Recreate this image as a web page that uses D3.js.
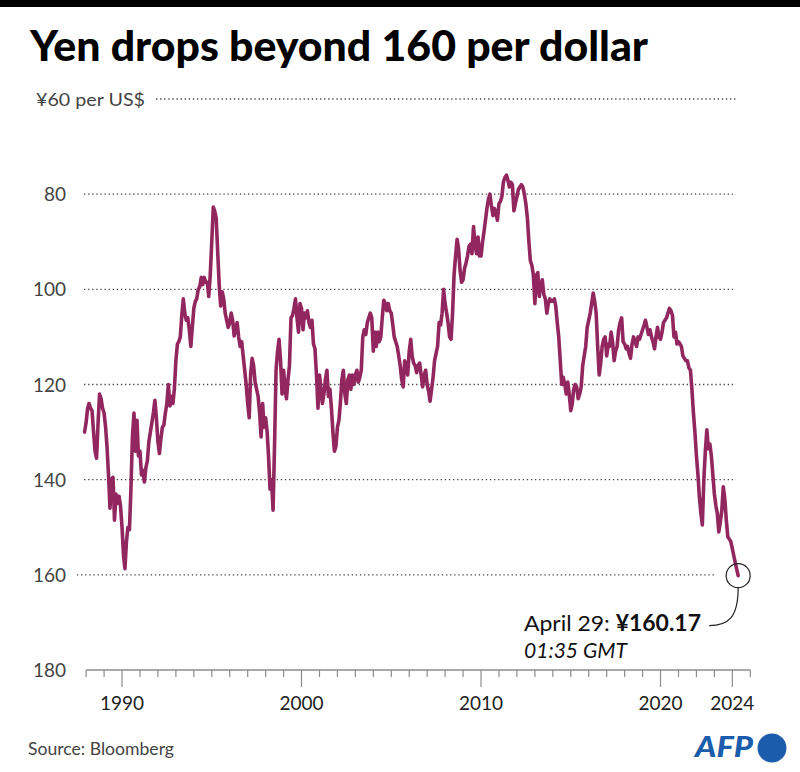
<!DOCTYPE html>
<html><head><meta charset="utf-8">
<script src="https://cdn.jsdelivr.net/npm/d3@7/dist/d3.min.js"></script>
<style>
body{margin:0;background:#fff;}
svg{display:block;font-family:Lato,"Noto Sans",sans-serif;}
</style></head><body>
<svg id="c" width="800" height="772"></svg>
<script>
// ---------- data ----------
const title = "Yen drops beyond 160 per dollar";
const unitLabel = "¥60 per US$";
const sourceText = "Source: Bloomberg";
const firstMonth = [1987, 12];            // first monthly observation
const lastDate = [2024, 4, 29];           // date of last observation
const rates = [
  130,                                                               // 1987 Dec
  128,125,124,125,125.5,130,134,135.5,128,122,123,125,               // 1988
  126,129,133,139,146,140,139.5,148.5,143,145,143.5,145.5,           // 1989
  150,156,158.7,153,150,150.5,142,131,126,134,127.5,135,             // 1990
  134,139,138,140.5,137.5,136,132,130,128,126,123.3,127,             // 1991
  132,134.5,131.5,129,128.5,126,124,120,124.5,122.5,124,121,         // 1992
  115,111.5,111,110,105.5,102,105,106.5,106,108.5,112,108,           // 1993
  104,102.5,102,100,99.5,97.5,99,97.5,98.5,98.5,101.5,97,            // 1994
  90,82.7,83.5,85,92,99,103.5,100.5,102,105,106.5,108,               // 1995
  107,105,106.5,109.8,108,107,110,112,111,114,117,120,               // 1996
  124,127,118,114.5,116,119.5,121,122.5,126,131,124,129,             // 1997
  127,130,135,142,140,146.4,133,117,113,110.5,115,122,               // 1998
  117,121,123,119,116,106,105.5,104,102,106,109,103,                 // 1999
  104,108.5,105,106,104.5,107,108,106.5,111.5,112.5,118,125,         // 2000
  118,121,124,122,119,117,122.5,121,125,130,134,133,                 // 2001
  129,127.5,124,119,117,122,124,119,118,121,118,120,                 // 2002
  118,117,119.5,118.5,117,110,108.5,109.5,107,106,105,106,           // 2003
  113,109,112,109,111,110,106,102.3,103,104.5,103,104.5,             // 2004
  105,107.5,110,111,112,114,116,119,120.5,115,116,118,               // 2005
  113,110.5,114,115.5,116,117.5,116,115.5,118,120.5,118,117,         // 2006
  120,121.5,123.5,121,118.5,115,113.5,112,107,107.5,105,100,         // 2007
  103,105,107,110,110.5,105,97,93,89.5,91.5,96,98.5,                 // 2008
  98,95.5,94.5,93,91,90.5,92.5,86.8,90.5,92.5,89,93,                 // 2009
  93,90,88,85.5,83,81,80,82.5,84.5,83,84,85.5,                       // 2010
  82,81.5,80.5,77.5,76.5,76,77,78.5,77.5,78,83.5,82,                 // 2011
  80.5,79,78.5,78,78.5,80,82,85,90,94,95,97,                         // 2012
  103,97,96.5,101.5,99,98,101,102,105,103,102,102.5,                 // 2013
  102.5,102,103.5,107,110,115,120,118.5,120,122,119.5,122,           // 2014
  125.5,124,121,120,120.5,123,122,120.5,116,114,112,108,             // 2015
  106.5,105,103,100.8,102.5,105,112,118,115.5,112,110.5,110,         // 2016
  114,111.5,112,109,111,115,113,112,108.5,107,106,111,               // 2017
  111.5,112.5,112,113.5,114.5,111.5,110,111,112,110,110.5,109.5,     // 2018
  108.5,107.5,106.5,108,109.5,108.5,110,111,112.5,110,108,110,       // 2019
  110.5,109,107,106.5,106,105,104,104.5,105.5,110,109,111.5,         // 2020
  111,111.5,112,114,114.5,115,115,116.5,117,121,126,130,             // 2021
  135,139,143.5,147,149.5,140,134,129.5,133.5,132.5,135,139,         // 2022
  143,145.5,147,151,149,146.5,141.5,144,148.5,152,152.5,153,         // 2023
  154.5,156,157.5,160.17                                             // 2024
];
const yTicks = [60, 80, 100, 120, 140, 160, 180];
const xTickYears = d3.range(1988, 2026);
const xLabelYears = [1990, 2000, 2010, 2020, 2024];
const noteDate = "April 29: ";
const noteValue = "¥160.17";
const noteTime = "01:35 GMT";

// ---------- build ----------
const dates = rates.map((v, i) => new Date(firstMonth[0], firstMonth[1] - 1 + i, 1));
dates[dates.length - 1] = new Date(lastDate[0], lastDate[1] - 1, lastDate[2]);
const series = rates.map((v, i) => ({date: dates[i], value: v}));

const svg = d3.select("#c");
const x = d3.scaleTime()
  .domain([new Date(1988, 0, 1), new Date(2025, 0, 1)])
  .range([86.1, 750.3]);
const y = d3.scaleLinear().domain([60, 180]).range([99, 670]);

// top bar
svg.append("rect").attr("x", 0).attr("y", 0).attr("width", 800).attr("height", 7).attr("fill", "#000");

// title
svg.append("text").attr("x", 30).attr("y", 61)
  .attr("font-size", 42).attr("font-weight", 900).attr("fill", "#000")
  .attr("textLength", 618).attr("lengthAdjust", "spacingAndGlyphs")
  .text(title);

// gridlines + y labels
const grid = svg.append("g");
yTicks.forEach(v => {
  const yy = y(v);
  if (v === 180) return;
  let x1 = 84, x2 = 736;
  if (v === 60) { x1 = 156; x2 = 737; }
  if (v === 160) { x1 = 77; x2 = 714; }
  grid.append("line").attr("x1", x1).attr("x2", x2).attr("y1", yy).attr("y2", yy)
    .attr("stroke", "#444").attr("stroke-width", 1.3).attr("stroke-dasharray", "1.3,2.8");
});
yTicks.forEach(v => {
  const yy = y(v);
  if (v === 60) {
    svg.append("text").attr("x", 36).attr("y", yy + 6.5).attr("font-size", 17)
      .attr("fill", "#444").attr("textLength", 109).attr("lengthAdjust", "spacingAndGlyphs")
      .text(unitLabel);
  } else {
    svg.append("text").attr("x", 66).attr("y", yy + 7).attr("text-anchor", "end")
      .attr("font-size", 19).attr("fill", "#444").text(v);
  }
});

// x axis
const ax = svg.append("g");
ax.append("line").attr("x1", x(new Date(1988, 0, 1))).attr("x2", x(new Date(2025, 0, 1)))
  .attr("y1", 670).attr("y2", 670).attr("stroke", "#8c8c8c").attr("stroke-width", 1.6);
xTickYears.forEach(yr => {
  const major = xLabelYears.includes(yr);
  const xx = x(new Date(yr, 0, 1));
  ax.append("line").attr("x1", xx).attr("x2", xx).attr("y1", 670).attr("y2", major ? 687 : 677)
    .attr("stroke", "#8c8c8c").attr("stroke-width", 1.2);
});
xLabelYears.forEach(yr => {
  ax.append("text").attr("x", x(new Date(yr, 0, 1))).attr("y", 710)
    .attr("text-anchor", "middle").attr("font-size", 19).attr("fill", "#222").text(yr);
});

// line
const line = d3.line().x(d => x(d.date)).y(d => y(d.value)).curve(d3.curveLinear);
svg.append("path").datum(series).attr("d", line)
  .attr("fill", "none").attr("stroke", "#922760").attr("stroke-width", 3.6)
  .attr("stroke-linejoin", "round").attr("stroke-linecap", "round");

// annotation
const last = series[series.length - 1];
const cx = x(last.date), cy = y(last.value);
svg.append("circle").attr("cx", cx).attr("cy", cy).attr("r", 12)
  .attr("fill", "none").attr("stroke", "#222").attr("stroke-width", 1.2);
svg.append("path")
  .attr("d", `M${cx},${cy + 12} C${cx},${cy + 42} ${cx - 10},${cy + 50} ${cx - 29},${cy + 50}`)
  .attr("fill", "none").attr("stroke", "#222").attr("stroke-width", 1.2);
const note = svg.append("text").attr("x", 524).attr("y", 631).attr("font-size", 22).attr("fill", "#111")
  .attr("textLength", 177).attr("lengthAdjust", "spacingAndGlyphs");
note.append("tspan").text(noteDate);
note.append("tspan").attr("font-weight", 700).text(noteValue);
svg.append("text").attr("x", 524).attr("y", 658).attr("font-size", 21).attr("font-style", "italic")
  .attr("fill", "#111").attr("textLength", 103).attr("lengthAdjust", "spacingAndGlyphs").text(noteTime);

// source
svg.append("text").attr("x", 28).attr("y", 755).attr("font-size", 17).attr("fill", "#444")
  .attr("textLength", 146).attr("lengthAdjust", "spacingAndGlyphs").text(sourceText);

// AFP logo
svg.append("text").attr("x", 695).attr("y", 757).attr("font-size", 28).attr("font-weight", 900)
  .attr("font-style", "italic").attr("fill", "#1c5cac")
  .attr("textLength", 58).attr("lengthAdjust", "spacingAndGlyphs").text("AFP");
svg.append("circle").attr("cx", 772).attr("cy", 748).attr("r", 14.5).attr("fill", "#1c5cac");
</script>
</body></html>
